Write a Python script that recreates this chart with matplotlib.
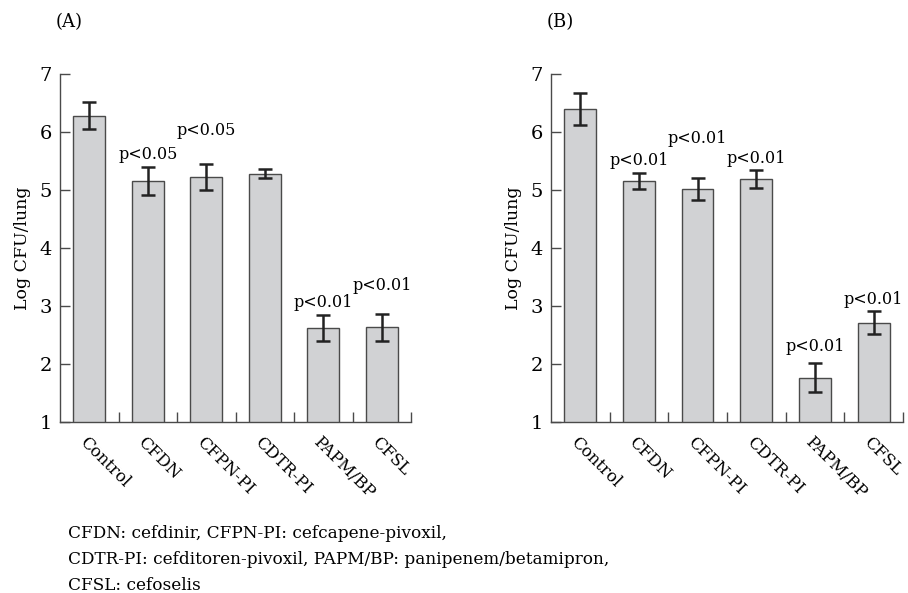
"""
Lung bacterial counts (Log CFU/lung) by treatment, panels A and B.
Output: out.png
"""

import matplotlib
matplotlib.use("Agg")
import matplotlib.pyplot as plt
import numpy as np

# ── data ──────────────────────────────────────────────────────────────────────
drugs = ["Control", "CFDN", "CFPN-PI", "CDTR-PI", "PAPM/BP", "CFSL"]

mean_a = [6.28, 5.16, 5.22, 5.28, 2.62, 2.63]
err_a  = [0.23, 0.24, 0.22, 0.08, 0.23, 0.24]
pval_a = ["", "p<0.05", "p<0.05", "", "p<0.01", "p<0.01"]

mean_b = [6.40, 5.16, 5.01, 5.19, 1.76, 2.71]
err_b  = [0.28, 0.14, 0.19, 0.15, 0.25, 0.20]
pval_b = ["", "p<0.01", "p<0.01", "p<0.01", "p<0.01", "p<0.01"]

footnote = ["CFDN: cefdinir, CFPN-PI: cefcapene-pivoxil,",
            "CDTR-PI: cefditoren-pivoxil, PAPM/BP: panipenem/betamipron,",
            "CFSL: cefoselis"]

# ── style ─────────────────────────────────────────────────────────────────────
plt.rcParams["font.family"] = ["DejaVu Serif"]
C_BAR   = "#d1d2d4"
C_EDGE  = "#4a4a4a"
C_ERR   = "#222222"
FS      = 12.5

# extra lift of the p-value labels above the error bar (axis units)
lift_a = [0, 0, 0.38, 0, 0, 0.27]
lift_b = [0, 0, 0.48, 0, 0.08, 0]

fig = plt.figure(figsize=(9.08, 5.93), dpi=100)
ax_a = fig.add_axes([0.0661, 0.2884, 0.3866, 0.5868])
ax_b = fig.add_axes([0.6068, 0.2884, 0.3877, 0.5868])


def draw_panel(ax, means, errs, pvals, lifts, label):
    x = np.arange(len(drugs))
    ax.bar(x, means, 0.54, bottom=0, color=C_BAR, edgecolor=C_EDGE, linewidth=1.0)
    ax.errorbar(x, means, yerr=errs, fmt="none", ecolor=C_ERR,
                elinewidth=1.8, capsize=5, capthick=1.8)

    for i, p in enumerate(pvals):
        if not p:
            continue
        y = means[i] + errs[i] + 0.13 + lifts[i]
        ax.text(x[i], y, p, ha="center", va="baseline", fontsize=11.5)

    ax.set_xlim(-0.5, len(drugs) - 0.5)
    ax.set_ylim(1, 7)
    ax.set_yticks(range(1, 8))
    ax.set_xticks(x + 0.5)
    ax.set_xticklabels([])
    ax.tick_params(axis="both", direction="in", length=7, width=1.0,
                   color=C_EDGE, labelsize=FS + 1.5)
    ax.tick_params(axis="y", pad=6)
    for i, name in enumerate(drugs):
        ax.text(x[i] - 0.02, 0.80, name, rotation=-45, ha="left", va="top",
                rotation_mode="anchor", fontsize=FS - 0.5)
    ax.set_ylabel("Log CFU/lung", fontsize=FS, labelpad=6)
    ax.spines["top"].set_visible(False)
    ax.spines["right"].set_visible(False)
    for s in ("left", "bottom"):
        ax.spines[s].set_color(C_EDGE)
        ax.spines[s].set_linewidth(1.0)

    fig.text(ax.get_position().x0 - 0.005, 1 - 22 / 593, label,
             ha="left", va="center", fontsize=FS + 0.5)


draw_panel(ax_a, mean_a, err_a, pval_a, lift_a, "(A)")
draw_panel(ax_b, mean_b, err_b, pval_b, lift_b, "(B)")

for k, line in enumerate(footnote):
    fig.text(68 / 908, 1 - (534 + 26 * k) / 593, line, ha="left", va="center",
             fontsize=12.2)

plt.savefig("out.png", dpi=100)
print("Saved: out.png")
